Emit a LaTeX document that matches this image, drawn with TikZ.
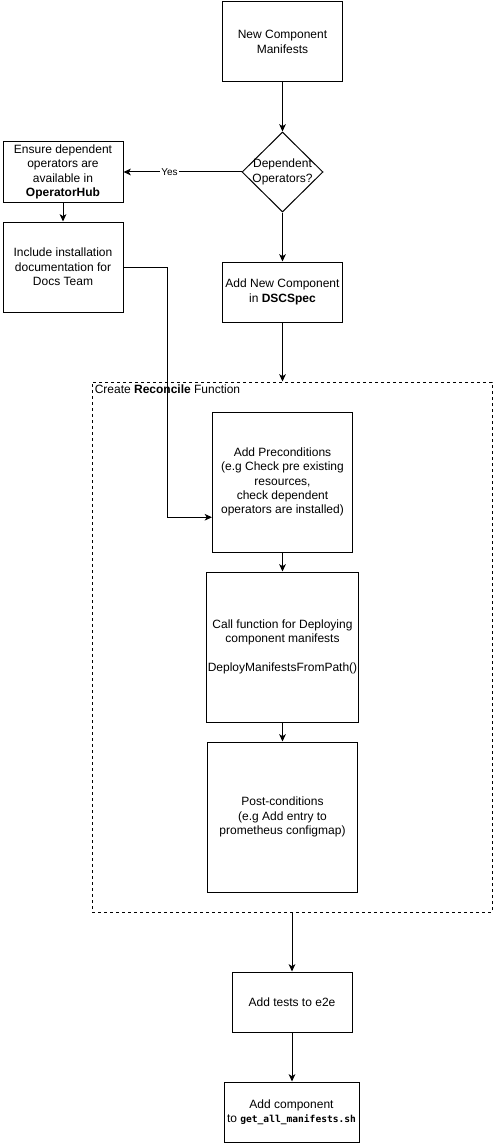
\documentclass[tikz,border=0pt]{standalone}
\usepackage{fontspec}
\setmainfont{Liberation Sans}
\newfontfamily\codefont{DejaVu Sans Mono}
\usetikzlibrary{arrows.meta,calc,shapes.geometric}

\tikzset{
  flowbox/.style={draw, line width=0.75pt, align=center, inner sep=0.75pt,
    font=\fontsize{9}{10.8}\selectfont},
  flowarrow/.style={draw, line width=0.75pt, -{Stealth[length=5.5pt,width=5pt,inset=1.5pt]}},
}

\begin{document}
\begin{tikzpicture}[x=0.75pt,y=0.75pt,yscale=-1,xscale=1]
\useasboundingbox (0,0) rectangle (495,1145);

%Shape: Rectangle [id:newmanifests]
\node (newman) [flowbox, minimum width=90pt, minimum height=60pt] at (282.5,42) {New Component\\Manifests};
%Shape: Diamond [id:depops]
\node (depops) [draw, line width=0.75pt, diamond, aspect=1, inner sep=0pt, minimum width=60.75pt, minimum height=60pt] at (282.5,172) {};
\node [align=center, inner sep=0pt, font=\fontsize{9}{10.8}\selectfont] at (depops.center) {Dependent\\Operators?};
%Shape: Rectangle [id:ensure]
\node (ensure) [flowbox, minimum width=90pt, minimum height=45pt] at (63,172) {Ensure dependent\\operators are\\available in\\\textbf{OperatorHub}};
%Shape: Rectangle [id:docs]
\node (docs) [flowbox, minimum width=90pt, minimum height=67.5pt] at (63,267) {Include installation\\documentation for\\Docs Team};
%Shape: Rectangle [id:dscspec]
\node (dscspec) [flowbox, minimum width=90pt, minimum height=45pt] at (282.5,292) {Add New Component\\in \textbf{DSCSpec}};

%Shape: Rectangle [id:reconcile]
\node (reconcile) [draw, line width=0.75pt, dash pattern={on 2.25pt off 2.25pt}, minimum width=300pt, minimum height=397.5pt] at (292,647) {};
% Text Node
\node [anchor=north west, inner sep=2.25pt, font=\fontsize{9}{10.8}\selectfont] at (reconcile.north west) {Create \textbf{Reconcile} Function};

%Shape: Rectangle [id:precond]
\node (precond) [flowbox, minimum width=105pt, minimum height=105pt] at (282.5,482) {Add Preconditions\\(e.g Check pre existing\\resources,\\check dependent\\operators are installed)};
%Shape: Rectangle [id:deploy]
\node (deploy) [flowbox, minimum width=112.5pt, minimum height=112.5pt] at (282.5,647) {Call function for Deploying\\component manifests\\[10.8pt]DeployManifestsFromPath()};
%Shape: Rectangle [id:postcond]
\node (postcond) [flowbox, minimum width=112.5pt, minimum height=112.5pt] at (282.5,817) {Post-conditions\\(e.g Add entry to\\prometheus configmap)};

%Shape: Rectangle [id:e2e]
\node (e2e) [flowbox, minimum width=90pt, minimum height=45pt] at (292,1002) {Add tests to e2e};
%Shape: Rectangle [id:getall]
\node (getall) [flowbox, minimum width=101.25pt, minimum height=45pt] at (291.5,1112) {Add component\\to {\codefont\bfseries\fontsize{7.2}{10.8}\selectfont get\_all\_manifests.sh}};

%Connectors
\draw [flowarrow] (newman) -- (depops);
\draw [flowarrow] (depops) -- node [fill=white, inner sep=0.75pt, font=\fontsize{7.5}{9}\selectfont, pos=0.61] {Yes} (ensure);
\draw [flowarrow] (ensure) -- (docs);
\draw [flowarrow] (depops) -- (dscspec);
\draw [flowarrow] (docs.east) -- ++(44,0) |- ($(precond.south west)!0.25!(precond.north west)$);
\draw [flowarrow] (dscspec.south) -- (dscspec.south |- reconcile.north);
\draw [flowarrow] (precond) -- (deploy);
\draw [flowarrow] (deploy) -- (postcond);
\draw [flowarrow] (reconcile.south) -- (e2e);
\draw [flowarrow] (e2e.south) -- (e2e.south |- getall.north);

\end{tikzpicture}
\end{document}
